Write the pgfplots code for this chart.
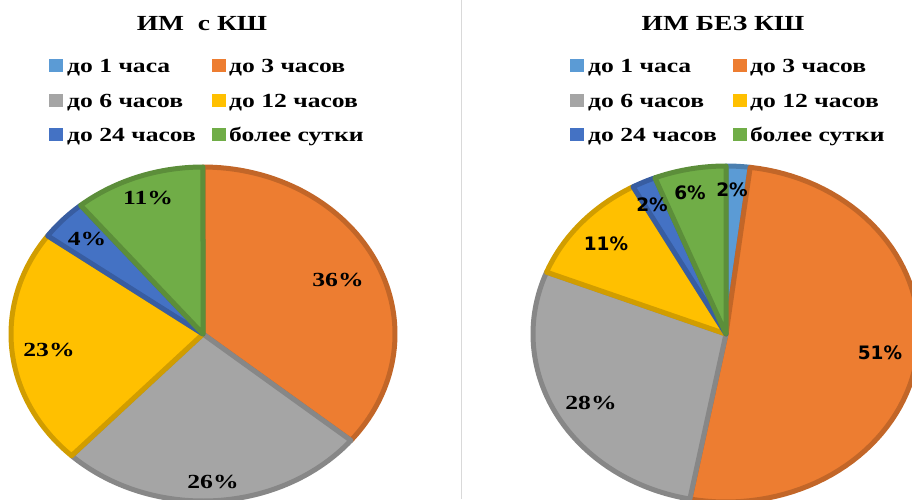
\documentclass[border=0pt]{standalone}
\usepackage{pgfplots}
\pgfplotsset{compat=1.18}
\usepackage{fontspec}
\usepackage{graphicx}
\setmainfont{Liberation Serif}
\newfontfamily\dvs{DejaVu Sans}
\definecolor{cA}{HTML}{5B9BD5}
\definecolor{cB}{HTML}{ED7D31}
\definecolor{cC}{HTML}{A5A5A5}
\definecolor{cD}{HTML}{FFC000}
\definecolor{cE}{HTML}{4472C4}
\definecolor{cF}{HTML}{70AD47}
\newcommand{\sx}[1]{\scalebox{1.28}[1]{#1}}
\tikzset{slice/.style={fill=#1, draw=#1!82!black, line width=5pt, line join=round, samples=72}}
\begin{document}
\begin{tikzpicture}
\useasboundingbox (0,0) rectangle (912pt,499pt);
\begin{axis}[at={(0,0)}, anchor=south west, width=912pt, height=499pt,
  scale only axis, hide axis, xmin=0, xmax=912, ymin=0, ymax=499,
  y dir=reverse, clip=true]
% Left pie: ИМ с КШ  (до 1 часа 0%, 36, 26, 23, 4, 11) -- domains in cumulative percent
\addplot[slice=cB, domain=0:36]  ({203+192*sin(3.6*x)}, {334-167*cos(3.6*x)}) -- (axis cs:203,334) -- cycle;
\addplot[slice=cC, domain=36:62] ({203+192*sin(3.6*x)}, {334-167*cos(3.6*x)}) -- (axis cs:203,334) -- cycle;
\addplot[slice=cD, domain=62:85] ({203+192*sin(3.6*x)}, {334-167*cos(3.6*x)}) -- (axis cs:203,334) -- cycle;
\addplot[slice=cE, domain=85:89] ({203+192*sin(3.6*x)}, {334-167*cos(3.6*x)}) -- (axis cs:203,334) -- cycle;
\addplot[slice=cF, domain=89:100]({203+192*sin(3.6*x)}, {334-167*cos(3.6*x)}) -- (axis cs:203,334) -- cycle;
% Right pie: ИМ БЕЗ КШ (2, 51, 28, 11, 2, 6)
\addplot[slice=cA, domain=0:2]   ({726+193*sin(3.6*x)}, {334-168*cos(3.6*x)}) -- (axis cs:726,334) -- cycle;
\addplot[slice=cB, domain=2:53]  ({726+193*sin(3.6*x)}, {334-168*cos(3.6*x)}) -- (axis cs:726,334) -- cycle;
\addplot[slice=cC, domain=53:81] ({726+193*sin(3.6*x)}, {334-168*cos(3.6*x)}) -- (axis cs:726,334) -- cycle;
\addplot[slice=cD, domain=81:92] ({726+193*sin(3.6*x)}, {334-168*cos(3.6*x)}) -- (axis cs:726,334) -- cycle;
\addplot[slice=cE, domain=92:94] ({726+193*sin(3.6*x)}, {334-168*cos(3.6*x)}) -- (axis cs:726,334) -- cycle;
\addplot[slice=cF, domain=94:100]({726+193*sin(3.6*x)}, {334-168*cos(3.6*x)}) -- (axis cs:726,334) -- cycle;
\end{axis}
\begin{scope}[x=1pt, y=-1pt, shift={(0pt,499pt)}, font=\bfseries\fontsize{20}{23}\selectfont]
\draw[color=black!15, line width=1pt] (461,0) -- (461,499);
% titles
\node[anchor=base, inner sep=0pt, font=\bfseries\fontsize{21.5}{24}\selectfont] at (202,31) {\sx{ИМ\ \ с КШ}};
\node[anchor=base, inner sep=0pt, font=\bfseries\fontsize{21.5}{24}\selectfont] at (723,31) {\sx{ИМ БЕЗ КШ}};
% legends
\foreach \ox in {0,521}{
  \fill[cA] (49+\ox,59) rectangle ++(14,13);
  \fill[cB] (212+\ox,59) rectangle ++(14,13);
  \fill[cC] (49+\ox,94) rectangle ++(14,13);
  \fill[cD] (212+\ox,94) rectangle ++(14,13);
  \fill[cE] (49+\ox,128) rectangle ++(14,13);
  \fill[cF] (212+\ox,128) rectangle ++(14,13);
  \node[anchor=base west, inner sep=0pt] at (67+\ox,73) {\sx{до 1 часа}};
  \node[anchor=base west, inner sep=0pt] at (229+\ox,73) {\sx{до 3 часов}};
  \node[anchor=base west, inner sep=0pt] at (67+\ox,107.5) {\sx{до 6 часов}};
  \node[anchor=base west, inner sep=0pt] at (229+\ox,107.5) {\sx{до 12 часов}};
  \node[anchor=base west, inner sep=0pt] at (67+\ox,142) {\sx{до 24 часов}};
  \node[anchor=base west, inner sep=0pt] at (229+\ox,142) {\sx{более сутки}};
}
% left pie labels
\node at (148,198) {\sx{11\%}};
\node at (87,239) {\sx{4\%}};
\node at (338,280) {\sx{36\%}};
\node at (49,350) {\sx{23\%}};
\node at (213,482) {\sx{26\%}};
% right pie labels
\begin{scope}[font=\dvs\bfseries\fontsize{18.5}{21}\selectfont]
\node at (732,190) {2\%};
\node at (690,193) {6\%};
\node at (652,205) {2\%};
\node at (606,244) {11\%};
\node at (880,353) {51\%};
\end{scope}
\node at (591,403) {\sx{28\%}};
\end{scope}
\end{tikzpicture}
\end{document}
